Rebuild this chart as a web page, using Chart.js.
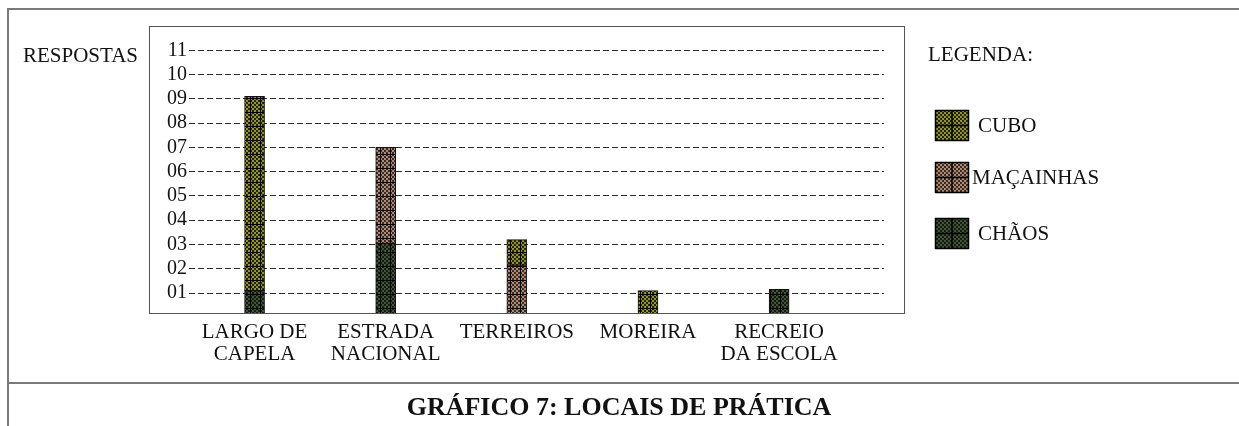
<!DOCTYPE html>
<html>
<head>
<meta charset="utf-8">
<script src="https://cdn.jsdelivr.net/npm/chart.js@4"></script>
<style>
  body { margin: 0; background: #fff; }
</style>
</head>
<body>
<canvas id="locais-chart" width="1239" height="426"></canvas>
<script>
// categorias e valores
let categoryLabels = [["LARGO DE", "CAPELA"], ["ESTRADA", "NACIONAL"], "TERREIROS", "MOREIRA", ["RECREIO", "DA ESCOLA"]];
let chaosValues = [1.1, 3.05, null, null, 1.15];
let macainhasValues = [null, 3.95, 2.15, null, null];
let cuboValues = [8, null, 1.05, 1.1, null];
let yTicks = [1, 2, 3, 4, 5, 6, 7, 8, 9, 10, 11];
let yTickLabels = ["01", "02", "03", "04", "05", "06", "07", "08", "09", "10", "11"];
let titleText = "GRÁFICO 7: LOCAIS DE PRÁTICA";
let yTitle = "RESPOSTAS";
let legendTitle = "LEGENDA:";

const serif = "'Liberation Serif', 'DejaVu Serif', serif";

// padrao xadrez (com ou sem grelha preta)
function makePattern(light, dark, w, h, lines) {
    let c = document.createElement("canvas");
    c.width = w; c.height = h;
    let g = c.getContext("2d");
    for (let y = 0; y < h; y += 2) {
        for (let x = 0; x < w; x += 2) {
            g.fillStyle = ((x + y) / 2) % 2 === 0 ? light : dark;
            g.fillRect(x, y, 2, 2);
        }
    }
    if (lines) {
        g.fillStyle = "#000";
        g.fillRect(0, 0, w, 1);
        g.fillRect(0, 0, 1, h);
    }
    return g.createPattern(c, "repeat");
}

let ctx = document.getElementById("locais-chart").getContext("2d");

let colors = {
    cubo: ["#939426", "#23240a"],
    macainhas: ["#ad8a74", "#3a2a20"],
    chaos: ["#435338", "#151c10"]
};

function toPoints(values) {
    return values.map((v, i) => ({ x: i, y: v }));
}

let datasets = [
    { label: "CHÃOS", data: toPoints(chaosValues), key: "chaos" },
    { label: "MAÇAINHAS", data: toPoints(macainhasValues), key: "macainhas" },
    { label: "CUBO", data: toPoints(cuboValues), key: "cubo" }
].map(d => Object.assign(d, {
    backgroundColor: makePattern(colors[d.key][0], colors[d.key][1], 10, 14, true),
    legendFill: makePattern(colors[d.key][0], colors[d.key][1], 16, 16, false),
    borderColor: "#111",
    borderWidth: 1,
    borderSkipped: false,
    barThickness: 20,
    clip: 0
}));

const decor = {
    id: "decor",
    beforeDraw(chart) {
        let c = chart.ctx;
        c.save();
        c.fillStyle = "#fff";
        c.fillRect(0, 0, chart.width, chart.height);
        // moldura da tabela
        c.strokeStyle = "#7a7a7a";
        c.lineWidth = 2;
        c.beginPath();
        c.moveTo(8, 426); c.lineTo(8, 9); c.lineTo(1239, 9);
        c.moveTo(8, 383); c.lineTo(1239, 383);
        c.stroke();
        // caixa do grafico
        c.strokeStyle = "#555";
        c.lineWidth = 1;
        c.strokeRect(149.5, 26.5, 755, 287);
        c.restore();
    },
    afterDraw(chart) {
        let c = chart.ctx;
        c.save();
        c.fillStyle = "#111";
        c.textBaseline = "middle";
        c.font = "21px " + serif;
        c.fillText(yTitle, 23, 56);
        c.fillText(legendTitle, 928, 55);
        // legenda (ordem inversa do empilhamento)
        let items = chart.data.datasets.slice().reverse();
        let tops = [110, 162, 218];
        items.forEach((ds, i) => {
            let y = tops[i];
            c.fillStyle = ds.legendFill;
            c.fillRect(935, y, 34, 31);
            c.strokeStyle = "#000";
            c.lineWidth = 1.5;
            c.strokeRect(935.5, y + 0.5, 33, 30);
            c.beginPath();
            c.moveTo(952, y); c.lineTo(952, y + 31);
            c.moveTo(935, y + 15.5); c.lineTo(969, y + 15.5);
            c.stroke();
            c.fillStyle = "#111";
            c.fillText(ds.label, ds.label.length > 6 ? 972 : 978, y + 16);
        });
        // titulo
        c.font = "bold 26px " + serif;
        c.textAlign = "center";
        c.fillText(titleText, 619, 408);
        c.restore();
    }
};

let locaisChart = new Chart(ctx, {
    type: "bar",
    data: { datasets: datasets },
    options: {
        responsive: false,
        animation: false,
        layout: { padding: { left: 149, right: 355, top: 26, bottom: 0 } },
        plugins: {
            legend: { display: false },
            tooltip: { enabled: false }
        },
        scales: {
            x: {
                type: "linear",
                stacked: true,
                offset: false,
                bounds: "ticks",
                min: -0.5,
                max: 4.8,
                afterBuildTicks: s => { s.ticks = categoryLabels.map((_, i) => ({ value: i })); },
                afterFit: s => { s.height = 113; },
                grid: { display: false, drawTicks: false },
                border: { display: false },
                ticks: {
                    autoSkip: false,
                    maxRotation: 0,
                    padding: 8,
                    color: "#111",
                    font: { family: serif, size: 21, lineHeight: 1.05 },
                    callback: v => categoryLabels[v]
                }
            },
            y: {
                stacked: true,
                min: 0.18,
                max: 12,
                afterBuildTicks: s => { s.ticks = yTicks.map(v => ({ value: v })); },
                afterFit: s => { s.width = 40; },
                grid: { color: "#2a2a2a", lineWidth: 1, drawTicks: false },
                border: { display: false, dash: [6, 3] },
                ticks: {
                    padding: 2,
                    color: "#111",
                    font: { family: serif, size: 20 },
                    callback: v => yTickLabels[yTicks.indexOf(v)]
                }
            }
        }
    },
    plugins: [decor]
});
</script>
</body>
</html>
